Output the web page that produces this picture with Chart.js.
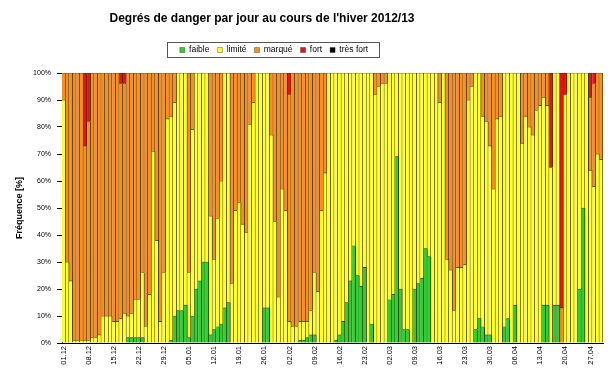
<!DOCTYPE html>
<html>
<head>
<meta charset="utf-8">
<title>Degrés de danger 2012/13</title>
<script src="https://cdn.jsdelivr.net/npm/chart.js@4.4.1/dist/chart.umd.min.js"></script>
<style>
  html, body { margin: 0; padding: 0; background: #fff; }
  #wrap { width: 616px; height: 381px; }
</style>
</head>
<body>
<div id="wrap"><canvas id="dangerChart" width="616" height="381"></canvas></div>
<script>
// ----------------------
// Data (share of each danger level per day, %)
// ----------------------
const monthLengths = [["12", 31], ["01", 31], ["02", 28], ["03", 31], ["04", 30]];

const tickLabels = ["01.12", "08.12", "15.12", "22.12", "29.12", "05.01", "12.01", "19.01",
  "26.01", "02.02", "09.02", "16.02", "23.02", "02.03", "09.03", "16.03", "23.03", "30.03",
  "06.04", "13.04", "20.04", "27.04"];

const faible = [
  0, 0, 0, 0, 0, 0, 0, 0, 0, 0,
  0, 0, 0, 0, 0, 0, 0, 0, 2, 2,
  2, 2, 2, 0, 0, 0, 0, 0, 0, 0,
  1, 10, 12, 12, 14, 2, 10, 20, 23, 30,
  30, 3, 5, 6, 7, 13, 15, 0, 0, 0,
  0, 0, 0, 0, 0, 0, 13, 13, 0, 0,
  0, 0, 0, 0, 0, 0, 1, 1, 2, 3,
  3, 0, 0, 0, 0, 0, 1, 3, 8, 15,
  23, 36, 25, 21, 28, 0, 7, 0, 0, 0,
  0, 16, 18, 69, 20, 5, 5, 0, 20, 22,
  24, 35, 32, 0, 0, 0, 0, 0, 0, 0,
  0, 0, 0, 0, 0, 5, 9, 6, 3, 3,
  0, 0, 0, 6, 9, 0, 14, 0, 0, 0,
  0, 0, 0, 0, 14, 14, 0, 14, 14, 0,
  0, 0, 0, 0, 20, 50, 0, 0, 0, 0,
  0
];

const limite = [
  90, 30, 23, 1, 1, 1, 1, 1, 2, 2,
  3, 10, 10, 10, 8, 8, 9, 11, 8, 9,
  14, 14, 24, 6, 18, 71, 38, 8, 26, 83,
  83, 79, 88, 88, 86, 24, 69, 80, 77, 70,
  70, 44, 26, 40, 53, 87, 85, 22, 49, 52,
  44, 41, 81, 89, 100, 100, 87, 87, 77, 45,
  17, 57, 49, 8, 6, 6, 7, 7, 6, 9,
  23, 19, 49, 63, 100, 100, 99, 97, 92, 85,
  77, 64, 75, 79, 72, 100, 93, 92, 95, 96,
  96, 84, 82, 31, 80, 95, 95, 100, 80, 78,
  76, 65, 68, 100, 100, 89, 100, 31, 27, 12,
  28, 28, 29, 90, 95, 95, 91, 78, 79, 70,
  57, 83, 84, 94, 91, 100, 86, 100, 74, 84,
  80, 77, 86, 88, 77, 74, 65, 86, 86, 0,
  92, 100, 100, 100, 80, 50, 100, 64, 58, 70,
  68
];

const marque = [
  10, 70, 77, 99, 99, 99, 72, 81, 98, 98,
  97, 90, 90, 90, 92, 92, 87, 85, 90, 89,
  84, 84, 74, 94, 82, 29, 62, 92, 74, 17,
  16, 11, 0, 0, 0, 74, 21, 0, 0, 0,
  0, 53, 69, 54, 40, 0, 0, 78, 51, 48,
  56, 59, 19, 11, 0, 0, 0, 0, 23, 55,
  83, 43, 51, 84, 94, 94, 92, 92, 92, 88,
  74, 81, 51, 37, 0, 0, 0, 0, 0, 0,
  0, 0, 0, 0, 0, 0, 0, 8, 5, 4,
  4, 0, 0, 0, 0, 0, 0, 0, 0, 0,
  0, 0, 0, 0, 0, 11, 0, 69, 73, 88,
  72, 72, 71, 10, 5, 0, 0, 16, 18, 27,
  43, 17, 16, 0, 0, 0, 0, 0, 26, 16,
  20, 23, 14, 12, 9, 12, 0, 0, 0, 13,
  0, 0, 0, 0, 0, 0, 0, 27, 38, 30,
  32
];

const fort = [
  0, 0, 0, 0, 0, 0, 27, 18, 0, 0,
  0, 0, 0, 0, 0, 0, 4, 4, 0, 0,
  0, 0, 0, 0, 0, 0, 0, 0, 0, 0,
  0, 0, 0, 0, 0, 0, 0, 0, 0, 0,
  0, 0, 0, 0, 0, 0, 0, 0, 0, 0,
  0, 0, 0, 0, 0, 0, 0, 0, 0, 0,
  0, 0, 0, 8, 0, 0, 0, 0, 0, 0,
  0, 0, 0, 0, 0, 0, 0, 0, 0, 0,
  0, 0, 0, 0, 0, 0, 0, 0, 0, 0,
  0, 0, 0, 0, 0, 0, 0, 0, 0, 0,
  0, 0, 0, 0, 0, 0, 0, 0, 0, 0,
  0, 0, 0, 0, 0, 0, 0, 0, 0, 0,
  0, 0, 0, 0, 0, 0, 0, 0, 0, 0,
  0, 0, 0, 0, 0, 0, 35, 0, 0, 87,
  8, 0, 0, 0, 0, 0, 0, 9, 4, 0,
  0
];

const tresFort = [
  0, 0, 0, 0, 0, 0, 0, 0, 0, 0,
  0, 0, 0, 0, 0, 0, 0, 0, 0, 0,
  0, 0, 0, 0, 0, 0, 0, 0, 0, 0,
  0, 0, 0, 0, 0, 0, 0, 0, 0, 0,
  0, 0, 0, 0, 0, 0, 0, 0, 0, 0,
  0, 0, 0, 0, 0, 0, 0, 0, 0, 0,
  0, 0, 0, 0, 0, 0, 0, 0, 0, 0,
  0, 0, 0, 0, 0, 0, 0, 0, 0, 0,
  0, 0, 0, 0, 0, 0, 0, 0, 0, 0,
  0, 0, 0, 0, 0, 0, 0, 0, 0, 0,
  0, 0, 0, 0, 0, 0, 0, 0, 0, 0,
  0, 0, 0, 0, 0, 0, 0, 0, 0, 0,
  0, 0, 0, 0, 0, 0, 0, 0, 0, 0,
  0, 0, 0, 0, 0, 0, 0, 0, 0, 0,
  0, 0, 0, 0, 0, 0, 0, 0, 0, 0,
  0
];

// one label per day, 01.12 .. 30.04
const days = [];
monthLengths.forEach(([month, n]) => {
  for (let d = 1; d <= n; d++) days.push(String(d).padStart(2, "0") + "." + month);
});

// ----------------------
// Layout helpers
// ----------------------
const TITLE_CX = 262;    // title sits left of page centre in the original
const LEGEND_CX = 274;
const LEGEND_GAP = 8.75; // extra room between legend and plot

const legendFrame = {
  id: "legendFrame",
  beforeLayout(chart) {
    const lg = chart.legend;
    if (lg && !lg._gapPatched) {
      const fit = lg.fit;
      lg.fit = function () { fit.call(this); this.height += LEGEND_GAP; };
      lg._gapPatched = true;
    }
  },
  afterLayout(chart) {
    const t = chart.titleBlock;
    t.left = TITLE_CX - 250;
    t.right = TITLE_CX + 250;
    const lg = chart.legend;
    const w = lg.right - lg.left;
    lg.left = LEGEND_CX - w / 2;
    lg.right = LEGEND_CX + w / 2;
  },
  afterDraw(chart) {
    const lg = chart.legend;
    const pad = lg.options.labels.padding;
    const span = lg.lineWidths[0] - pad;
    const cy = lg.top + pad + lg.options.labels.font.size / 2;
    const ctx = chart.ctx;
    ctx.save();
    ctx.strokeStyle = "#555";
    ctx.lineWidth = 1;
    ctx.strokeRect(Math.round(LEGEND_CX - span / 2 - 13) + 0.5, Math.round(cy - 8) + 0.5,
      Math.round(span + 24), 15);
    ctx.restore();
  }
};

// ----------------------
// Chart
// ----------------------
function barSet(label, values, color) {
  return {
    label,
    data: values.map(v => v || null),
    backgroundColor: color,
    borderColor: "#2a2208",
    borderWidth: { top: 0.6, right: 0.9, bottom: 0, left: 0 },
    borderSkipped: false,
    barPercentage: 1,
    categoryPercentage: 1
  };
}

Chart.defaults.font.family = "'Liberation Sans', Arial, sans-serif";
Chart.defaults.color = "#000";

new Chart(document.getElementById("dangerChart"), {
  type: "bar",
  data: {
    labels: days,
    datasets: [
      barSet("faible", faible, "#33cc33"),
      barSet("limité", limite, "#ffff33"),
      barSet("marqué", marque, "#f39128"),
      barSet("fort", fort, "#e0161b"),
      barSet("très fort", tresFort, "#000000")
    ]
  },
  options: {
    responsive: false,
    animation: false,
    devicePixelRatio: 1,
    layout: { padding: { left: 0, right: 13, top: 0, bottom: 0 } },
    plugins: {
      title: {
        display: true,
        text: "Degrés de danger par jour au cours de l'hiver 2012/13",
        font: { size: 12, weight: "bold" },
        color: "#000",
        padding: { top: 11, bottom: 12.35 }
      },
      legend: {
        position: "top",
        labels: {
          boxWidth: 5,
          boxHeight: 5,
          padding: 8,
          font: { size: 8.5 },
          color: "#000"
        }
      },
      tooltip: { enabled: false }
    },
    scales: {
      x: {
        stacked: true,
        afterFit(scale) { scale.height = 38; },
        grid: { display: true, drawOnChartArea: false, drawTicks: false },
        border: { display: true, color: "#000" },
        ticks: {
          autoSkip: false,
          minRotation: 90,
          maxRotation: 90,
          padding: 3,
          font: { size: 7.5 },
          color: "#000",
          callback(value, index) {
            const d = days[index];
            return tickLabels.includes(d) ? d : null;
          }
        }
      },
      y: {
        stacked: true,
        min: 0,
        max: 100,
        afterFit(scale) { scale.width = 62; },
        grid: { drawOnChartArea: false, drawTicks: true, tickLength: 5, color: "#000" },
        border: { display: true, color: "#000" },
        ticks: {
          stepSize: 10,
          padding: 6,
          font: { size: 7 },
          color: "#000",
          callback: v => v + "%"
        },
        title: {
          display: true,
          text: "Fréquence [%]",
          font: { size: 9, weight: "bold" },
          color: "#000",
          padding: { top: 14, bottom: 0 }
        }
      }
    }
  },
  plugins: [legendFrame]
});
</script>
</body>
</html>
